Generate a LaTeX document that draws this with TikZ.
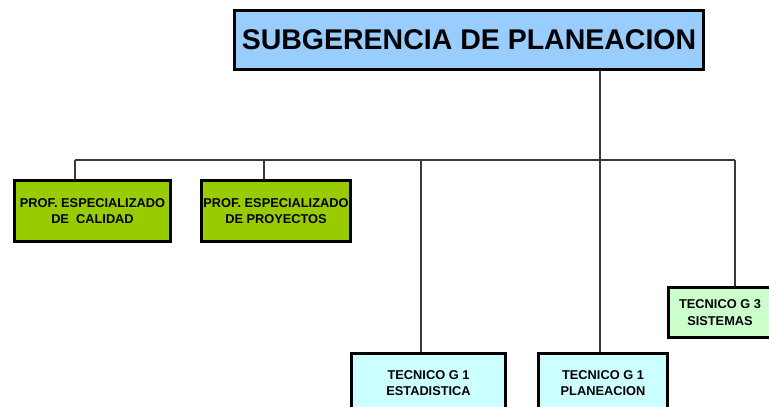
\documentclass[tikz,border=0pt]{standalone}
\usepackage{fontspec}
\setmainfont{Liberation Sans}
\usetikzlibrary{shadows}
\definecolor{topblue}{HTML}{99CCFF}
\definecolor{profgreen}{HTML}{99CC00}
\definecolor{tecblue}{HTML}{CCFFFF}
\definecolor{tecgreen}{HTML}{CCFFCC}
\definecolor{linegray}{HTML}{3A3A3A}
\tikzset{
  boxstyle/.style={draw=black, line width=3pt, inner sep=0pt, align=center,
    font=\bfseries\fontsize{12.8}{16.8}\selectfont,
    drop shadow={shadow xshift=1.5pt, shadow yshift=-1.5pt, fill=black!40, opacity=1}},
  topbox/.style={boxstyle, fill=topblue, font=\bfseries\fontsize{28.5}{32}\selectfont},
  profbox/.style={boxstyle, fill=profgreen},
  tecbox/.style={boxstyle, fill=tecblue},
  tecgbox/.style={boxstyle, fill=tecgreen},
  conn/.style={draw=linegray, line width=1.6pt}
}
\begin{document}
\begin{tikzpicture}[x=1pt, y=-1pt]
\useasboundingbox (0,0) rectangle (769,407);
\clip (0,0) rectangle (769,407);
\fill[white] (0,0) rectangle (769,407);

\coordinate (busL) at (75,160);
\coordinate (busR) at (735,160);
\coordinate (busA) at (264,160);
\coordinate (busB) at (421,160);
\coordinate (busC) at (600,160);

\node[topbox, minimum width=469pt, minimum height=59pt] (top) at (469,40) {SUBGERENCIA DE PLANEACION};
\node[profbox, minimum width=156pt, minimum height=61pt] (g1) at (92.5,211) {PROF. ESPECIALIZADO\\DE\ \ CALIDAD};
\node[profbox, minimum width=149pt, minimum height=61pt] (g2) at (276,211) {PROF. ESPECIALIZADO\\DE PROYECTOS};
\node[tecbox, minimum width=154pt, minimum height=60pt] (b1) at (428.5,383) {TECNICO G 1\\ESTADISTICA};
\node[tecbox, minimum width=129pt, minimum height=60pt] (b2) at (603,383) {TECNICO G 1\\PLANEACION};
\node[tecgbox, minimum width=103pt, minimum height=50pt] (t3) at (720,312.5) {TECNICO G 3\\SISTEMAS};

\draw[conn] (top.south -| busC) -- (busC);
\draw[conn] (busL) -- (busR);
\draw[conn] (busL) -- (busL |- g1.north);
\draw[conn] (busA) -- (busA |- g2.north);
\draw[conn] (busB) -- (busB |- b1.north);
\draw[conn] (busC) -- (busC |- b2.north);
\draw[conn] (busR) -- (busR |- t3.north);
\end{tikzpicture}
\end{document}
